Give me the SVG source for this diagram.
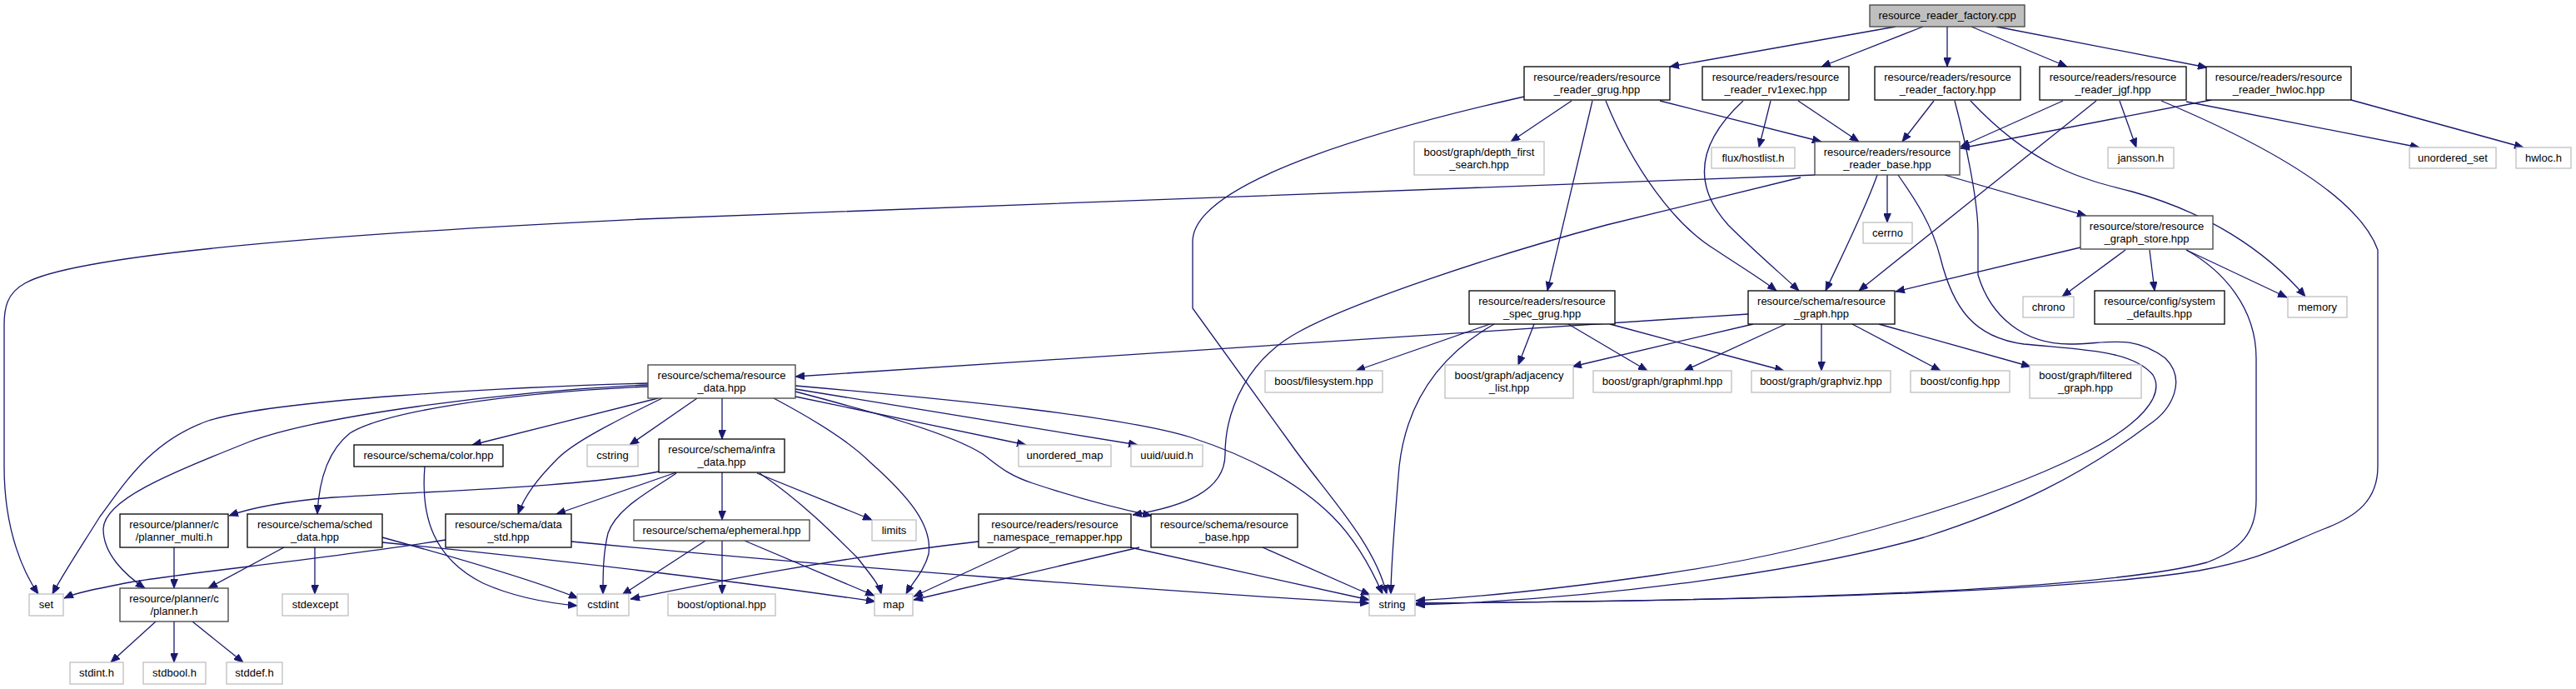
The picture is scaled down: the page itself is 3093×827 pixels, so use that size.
<svg xmlns="http://www.w3.org/2000/svg" width="3093" height="827" viewBox="0 0 3093 827">
<style>
rect{fill:#fff;stroke:#000;stroke-width:1.3}
rect.e{stroke:#bfbfbf}
rect.g{stroke:#404040}
rect.r{fill:#bfbfbf;stroke:#404040}
text{font-family:"Liberation Sans",Arial,sans-serif;font-size:13px;text-anchor:middle;fill:#000}
#edges path{fill:none;stroke:#191970;stroke-width:1.3;marker-end:url(#a)}
</style>
<defs>
<marker id="a" viewBox="0 0 11 9" refX="11" refY="4.5" markerWidth="11" markerHeight="9" orient="auto" markerUnits="userSpaceOnUse">
<path d="M0,0 L11,4.5 L0,9 z" fill="#191970" stroke="#191970" stroke-width="0.8"/>
</marker>
</defs>
<rect x="0" y="0" width="3093" height="827" style="fill:#fff;stroke:none"/>
<g id="edges">
<path d="M2276,32 L2005,80"/>
<path d="M2309,32 L2187,80"/>
<path d="M2338,32 L2338,80"/>
<path d="M2367,32 L2482,80"/>
<path d="M2397,32 L2650,81"/>
<path d="M1830,116 C1680,150 1432,215 1432,290 L1432,370 L1550,533 C1590,590 1650,650 1665,713"/>
<path d="M1887,121 L1814,170"/>
<path d="M1912,121 L1858,349"/>
<path d="M1928,121 C1960,200 2010,270 2060,300 C2090,320 2115,335 2133,349"/>
<path d="M1993,121 L2187,170"/>
<path d="M2093,121 C2040,170 2030,220 2075,270 C2110,305 2140,330 2160,349"/>
<path d="M2126,121 L2112,177"/>
<path d="M2159,121 L2232,170"/>
<path d="M2322,121 L2284,170"/>
<path d="M2347,121 C2360,170 2375,240 2375,280 L2375,330 C2390,380 2430,413 2485,413 C2530,413 2560,400 2600,430 C2625,455 2610,490 2580,510 C2500,570 2420,610 2310,645 C2150,690 1900,720 1700,726"/>
<path d="M2366,121 C2440,200 2500,215 2560,230 C2650,255 2720,300 2768,356"/>
<path d="M2477,121 L2354,176"/>
<path d="M2517,121 L2232,349"/>
<path d="M2545,121 L2565,177"/>
<path d="M2595,121 C2700,165 2830,230 2855,300 L2855,560 C2855,600 2830,620 2790,635 C2740,655 2720,670 2640,685 C2450,715 2000,722 1700,724"/>
<path d="M2625,122 L2905,177"/>
<path d="M2655,120 L2354,178"/>
<path d="M2823,120 L3030,177"/>
<path d="M2179,210 L770,263 C500,276 100,300 30,340 C8,352 5,370 5,390 L5,560 C5,640 30,690 46,713"/>
<path d="M2162,213 L1929,270 C1780,310 1620,365 1560,398 C1500,430 1471,490 1471,545 C1471,590 1420,608 1360,618"/>
<path d="M2254,210 C2240,250 2215,300 2192,349"/>
<path d="M2266,210 L2266,267"/>
<path d="M2279,210 C2300,240 2320,270 2330,310 C2345,370 2370,405 2430,413 C2500,420 2560,420 2585,450 C2600,475 2570,510 2500,545 C2400,595 2200,660 1990,690 C1850,710 1750,718 1700,721"/>
<path d="M2335,210 L2505,259"/>
<path d="M2498,297 L2276,350"/>
<path d="M2552,300 L2476,356"/>
<path d="M2581,300 L2587,349"/>
<path d="M2625,300 L2746,357"/>
<path d="M2625,300 C2670,325 2709,370 2709,430 L2709,600 C2709,640 2690,660 2650,675 C2500,715 2000,722 1700,724"/>
<path d="M1789,389 L1628,445"/>
<path d="M1794,389 C1740,420 1690,470 1680,560 C1675,620 1670,680 1670,713"/>
<path d="M1842,389 L1823,438"/>
<path d="M1883,389 L1978,445"/>
<path d="M1933,389 L2142,445"/>
<path d="M2099,377 L955,452"/>
<path d="M2105,389 L1888,440"/>
<path d="M2144,389 L2022,445"/>
<path d="M2187,389 L2187,445"/>
<path d="M2224,389 L2330,445"/>
<path d="M2256,389 L2438,440"/>
<path d="M778,460 C600,465 330,480 250,505 C180,530 150,580 120,620 C95,660 75,690 63,713"/>
<path d="M778,462 C600,470 380,500 300,530 C200,570 125,600 124,635 C124,665 150,690 174,706"/>
<path d="M778,464 C600,472 460,495 420,520 C395,540 383,575 381,617"/>
<path d="M790,478 L567,534"/>
<path d="M795,478 C740,505 690,530 670,550 C645,575 630,595 622,617"/>
<path d="M837,478 L756,534"/>
<path d="M867,478 L867,527"/>
<path d="M929,478 C980,505 1020,530 1045,555 C1090,595 1120,630 1115,665 C1110,685 1095,700 1088,713"/>
<path d="M955,476 L1232,534"/>
<path d="M955,467 L1366,534"/>
<path d="M955,470 C1050,495 1140,520 1180,545 C1200,560 1210,570 1240,580 C1300,600 1350,612 1383,619"/>
<path d="M955,463 C1150,480 1350,500 1430,525 C1500,548 1560,580 1600,620 C1630,650 1650,690 1660,713"/>
<path d="M791,566 C700,585 500,590 400,597 C340,602 300,610 275,619"/>
<path d="M812,567 L668,617"/>
<path d="M812,568 C780,590 740,610 730,640 C724,665 724,690 724,713"/>
<path d="M867,567 L867,624"/>
<path d="M909,568 L1047,624"/>
<path d="M912,568 C960,600 1000,640 1030,670 C1045,690 1055,700 1058,713"/>
<path d="M847,649 L747,714"/>
<path d="M867,649 L867,713"/>
<path d="M894,649 L1050,715"/>
<path d="M1225,657 L1097,716"/>
<path d="M1175,650 C1000,670 850,700 757,719"/>
<path d="M1357,657 L1644,720"/>
<path d="M1368,657 L1097,720"/>
<path d="M1516,657 L1645,714"/>
<path d="M341,657 L250,706"/>
<path d="M378,657 L378,713"/>
<path d="M459,645 C550,670 650,700 694,718"/>
<path d="M459,651 C700,675 900,700 1051,722"/>
<path d="M535,648 C400,670 200,690 150,700 C110,708 90,712 77,718"/>
<path d="M686,650 C1000,680 1400,710 1644,724"/>
<path d="M510,560 C505,620 520,670 580,700 C620,718 660,724 693,727"/>
<path d="M209,657 L209,706"/>
<path d="M187,746 L133,795"/>
<path d="M209,746 L209,795"/>
<path d="M231,746 L292,795"/>
</g>
<g id="root"><rect class="r" x="2245" y="6" width="186" height="26"/><text x="2338" y="23">resource_reader_factory.cpp</text></g>
<g id="grug"><rect x="1830" y="80" width="175" height="40"/><text x="1917.5" y="97">resource/readers/resource</text><text x="1917.5" y="111.5">_reader_grug.hpp</text></g>
<g id="rv1exec"><rect x="2044" y="80" width="176" height="40"/><text x="2132" y="97">resource/readers/resource</text><text x="2132" y="111.5">_reader_rv1exec.hpp</text></g>
<g id="factory"><rect x="2251" y="80" width="175" height="40"/><text x="2338.5" y="97">resource/readers/resource</text><text x="2338.5" y="111.5">_reader_factory.hpp</text></g>
<g id="jgf"><rect x="2449" y="80" width="176" height="40"/><text x="2537" y="97">resource/readers/resource</text><text x="2537" y="111.5">_reader_jgf.hpp</text></g>
<g id="hwlocreader"><rect x="2649" y="80" width="174" height="40"/><text x="2736" y="97">resource/readers/resource</text><text x="2736" y="111.5">_reader_hwloc.hpp</text></g>
<g id="depthfirst"><rect class="e" x="1698" y="170" width="156" height="40"/><text x="1776" y="187">boost/graph/depth_first</text><text x="1776" y="201.5">_search.hpp</text></g>
<g id="hostlist"><rect class="e" x="2055" y="177" width="100" height="25"/><text x="2105" y="194">flux/hostlist.h</text></g>
<g id="readerbase"><rect class="g" x="2179" y="170" width="174" height="40"/><text x="2266" y="187">resource/readers/resource</text><text x="2266" y="201.5">_reader_base.hpp</text></g>
<g id="jansson"><rect class="e" x="2531" y="177" width="79" height="25"/><text x="2570.5" y="194">jansson.h</text></g>
<g id="unorderedset"><rect class="e" x="2893" y="177" width="104" height="25"/><text x="2945" y="194">unordered_set</text></g>
<g id="hwloch"><rect class="e" x="3021" y="177" width="66" height="25"/><text x="3054" y="194">hwloc.h</text></g>
<g id="graphstore"><rect class="g" x="2498" y="259" width="159" height="40"/><text x="2577.5" y="276">resource/store/resource</text><text x="2577.5" y="290.5">_graph_store.hpp</text></g>
<g id="cerrno"><rect class="e" x="2237" y="267" width="59" height="25"/><text x="2266.5" y="284">cerrno</text></g>
<g id="chrono"><rect class="e" x="2429" y="356" width="61" height="25"/><text x="2459.5" y="373">chrono</text></g>
<g id="sysdefaults"><rect x="2515" y="349" width="156" height="40"/><text x="2593" y="366">resource/config/system</text><text x="2593" y="380.5">_defaults.hpp</text></g>
<g id="memory"><rect class="e" x="2747" y="356" width="71" height="25"/><text x="2782.5" y="373">memory</text></g>
<g id="resourcegraph"><rect x="2099" y="349" width="176" height="40"/><text x="2187" y="366">resource/schema/resource</text><text x="2187" y="380.5">_graph.hpp</text></g>
<g id="specgrug"><rect x="1764" y="349" width="175" height="40"/><text x="1851.5" y="366">resource/readers/resource</text><text x="1851.5" y="380.5">_spec_grug.hpp</text></g>
<g id="filesystem"><rect class="e" x="1519" y="445" width="141" height="26"/><text x="1589.5" y="462">boost/filesystem.hpp</text></g>
<g id="adjacency"><rect class="e" x="1735" y="438" width="154" height="40"/><text x="1812" y="455">boost/graph/adjacency</text><text x="1812" y="469.5">_list.hpp</text></g>
<g id="graphml"><rect class="e" x="1913" y="445" width="166" height="26"/><text x="1996" y="462">boost/graph/graphml.hpp</text></g>
<g id="graphviz"><rect class="e" x="2103" y="445" width="167" height="26"/><text x="2186.5" y="462">boost/graph/graphviz.hpp</text></g>
<g id="config"><rect class="e" x="2294" y="445" width="119" height="26"/><text x="2353.5" y="462">boost/config.hpp</text></g>
<g id="filtered"><rect class="e" x="2437" y="438" width="134" height="40"/><text x="2504" y="455">boost/graph/filtered</text><text x="2504" y="469.5">_graph.hpp</text></g>
<g id="resourcedata"><rect class="g" x="778" y="438" width="177" height="40"/><text x="866.5" y="455">resource/schema/resource</text><text x="866.5" y="469.5">_data.hpp</text></g>
<g id="unorderedmap"><rect class="e" x="1223" y="534" width="111" height="26"/><text x="1278.5" y="551">unordered_map</text></g>
<g id="uuid"><rect class="e" x="1358" y="534" width="86" height="26"/><text x="1401" y="551">uuid/uuid.h</text></g>
<g id="infradata"><rect x="791" y="527" width="151" height="40"/><text x="866.5" y="544">resource/schema/infra</text><text x="866.5" y="558.5">_data.hpp</text></g>
<g id="color"><rect x="425" y="534" width="179" height="26"/><text x="514.5" y="551">resource/schema/color.hpp</text></g>
<g id="cstring"><rect class="e" x="705" y="534" width="61" height="26"/><text x="735.5" y="551">cstring</text></g>
<g id="plannermulti"><rect x="144" y="617" width="130" height="40"/><text x="209" y="634">resource/planner/c</text><text x="209" y="648.5">/planner_multi.h</text></g>
<g id="scheddata"><rect x="297" y="617" width="162" height="40"/><text x="378" y="634">resource/schema/sched</text><text x="378" y="648.5">_data.hpp</text></g>
<g id="datastd"><rect x="535" y="617" width="151" height="40"/><text x="610.5" y="634">resource/schema/data</text><text x="610.5" y="648.5">_std.hpp</text></g>
<g id="set"><rect class="e" x="35" y="713" width="41" height="26"/><text x="55.5" y="730">set</text></g>
<g id="planner"><rect class="g" x="144" y="706" width="130" height="40"/><text x="209" y="723">resource/planner/c</text><text x="209" y="737.5">/planner.h</text></g>
<g id="stdexcept"><rect class="e" x="339" y="713" width="79" height="26"/><text x="378.5" y="730">stdexcept</text></g>
<g id="cstdint"><rect class="e" x="693" y="713" width="62" height="26"/><text x="724" y="730">cstdint</text></g>
<g id="stdint"><rect class="e" x="84" y="795" width="64" height="26"/><text x="116" y="812">stdint.h</text></g>
<g id="stdbool"><rect class="e" x="172" y="795" width="75" height="26"/><text x="209.5" y="812">stdbool.h</text></g>
<g id="stddef"><rect class="e" x="272" y="795" width="67" height="26"/><text x="305.5" y="812">stddef.h</text></g>
<g id="ephemeral"><rect class="g" x="761" y="624" width="211" height="25"/><text x="866.5" y="641">resource/schema/ephemeral.hpp</text></g>
<g id="limits"><rect class="e" x="1047" y="624" width="53" height="25"/><text x="1073.5" y="641">limits</text></g>
<g id="optional"><rect class="e" x="802" y="713" width="129" height="26"/><text x="866.5" y="730">boost/optional.hpp</text></g>
<g id="map"><rect class="e" x="1050" y="713" width="46" height="26"/><text x="1073" y="730">map</text></g>
<g id="remapper"><rect x="1175" y="617" width="183" height="40"/><text x="1266.5" y="634">resource/readers/resource</text><text x="1266.5" y="648.5">_namespace_remapper.hpp</text></g>
<g id="resourcebase"><rect x="1382" y="617" width="176" height="40"/><text x="1470" y="634">resource/schema/resource</text><text x="1470" y="648.5">_base.hpp</text></g>
<g id="string"><rect class="e" x="1644" y="713" width="55" height="26"/><text x="1671.5" y="730">string</text></g>
</svg>
